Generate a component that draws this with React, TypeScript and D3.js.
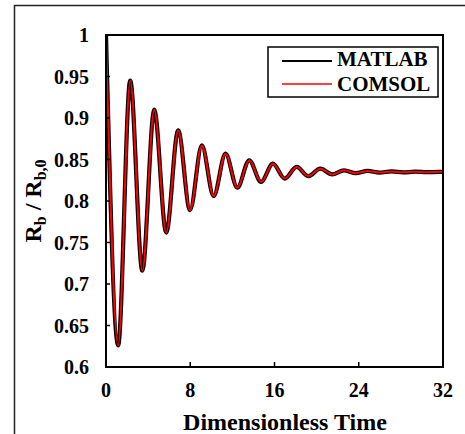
import React from "react";
import * as d3 from "d3";

const times = [0, 1.15, 2.3, 3.45, 4.58, 5.72, 6.85, 7.98, 9.1, 10.22, 11.35, 12.47, 13.6, 14.72, 15.85, 16.97, 18.1, 19.22, 20.35, 21.47, 22.6, 23.72, 24.85, 25.97, 27.1, 28.22, 29.35, 30.47, 31.6, 32];
const matlabValues = [1, 0.626, 0.945, 0.716, 0.91, 0.762, 0.885, 0.789, 0.867, 0.806, 0.857, 0.816, 0.849, 0.823, 0.845, 0.827, 0.841, 0.83, 0.839, 0.832, 0.837, 0.8335, 0.8362, 0.8342, 0.8356, 0.8345, 0.8353, 0.8347, 0.8351, 0.835];
const comsolValues = [1, 0.626, 0.945, 0.716, 0.91, 0.762, 0.885, 0.789, 0.867, 0.806, 0.857, 0.816, 0.849, 0.823, 0.845, 0.827, 0.841, 0.83, 0.839, 0.832, 0.837, 0.8335, 0.8362, 0.8342, 0.8356, 0.8345, 0.8353, 0.8347, 0.8351, 0.835];
const xTicks = [0, 8, 16, 24, 32];
const yTicks = [0.6, 0.65, 0.7, 0.75, 0.8, 0.85, 0.9, 0.95, 1];
const yTickLabels = ["0.6", "0.65", "0.7", "0.75", "0.8", "0.85", "0.9", "0.95", "1"];
const seriesNames = ["MATLAB", "COMSOL"];

const W = 465, H = 434;
const L = 106, R = 443, T = 35, B = 367;
const FONT = "'Liberation Serif', 'Times New Roman', serif";

export default function App() {
  const x = d3.scaleLinear().domain([0, 32]).range([L, R]);
  const y = d3.scaleLinear().domain([0.6, 1]).range([B, T]);
  const line = d3
    .line<number>()
    .x((_, i) => x(times[i]))
    .y((v) => y(v))
    .curve(d3.curveMonotoneX);

  return (
    <svg width={W} height={H} style={{ position: "absolute", left: 0, top: 0, display: "block", background: "#fff" }} fontFamily={FONT} fontWeight="bold">
      <rect x={14.5} y={5.5} width={600} height={600} fill="none" stroke="#222" strokeWidth={1.5} />
      <defs>
        <clipPath id="plotclip">
          <rect x={L} y={T - 2} width={R - L} height={B - T + 2} />
        </clipPath>
      </defs>
      <g clipPath="url(#plotclip)">
        <path d={line(matlabValues) || ""} fill="none" stroke="#000" strokeWidth={4.2} strokeLinejoin="round" />
        <path d={line(comsolValues) || ""} fill="none" stroke="#ff0000" strokeWidth={2} strokeLinejoin="round" />
      </g>
      <rect x={L} y={T} width={R - L} height={B - T} fill="none" stroke="#000" strokeWidth={2} />
      {yTicks.map((t, i) => (
        <g key={"y" + i}>
          <line x1={L} x2={L + 4} y1={y(t)} y2={y(t)} stroke="#000" strokeWidth={1.5} />
          <text x={89} y={y(t)} dy="0.35em" textAnchor="end" fontSize={20}>
            {yTickLabels[i]}
          </text>
        </g>
      ))}
      {xTicks.map((t, i) => (
        <g key={"x" + i}>
          {i > 0 && i < xTicks.length - 1 && (
            <line x1={x(t)} x2={x(t)} y1={B} y2={B - 5} stroke="#000" strokeWidth={1.5} />
          )}
          <text x={x(t)} y={397} textAnchor="middle" fontSize={20}>
            {t}
          </text>
        </g>
      ))}
      <text x={285} y={430} textAnchor="middle" fontSize={24}>
        Dimensionless Time
      </text>
      <text transform={`translate(41,${(T + B) / 2}) rotate(-90)`} textAnchor="middle" fontSize={24}>
        R<tspan fontSize={16} dy={5}>b</tspan>
        <tspan dy={-5}> / R</tspan>
        <tspan fontSize={16} dy={5}>b,0</tspan>
      </text>
      <rect x={268} y={47} width={170} height={50} fill="#fff" stroke="#000" strokeWidth={1.5} />
      <line x1={282} x2={332} y1={61} y2={61} stroke="#000" strokeWidth={2} />
      <line x1={282} x2={332} y1={84} y2={84} stroke="#ff0000" strokeWidth={1.5} />
      <text x={337} y={66} fontSize={21}>{seriesNames[0]}</text>
      <text x={337} y={91} fontSize={21}>{seriesNames[1]}</text>
    </svg>
  );
}
